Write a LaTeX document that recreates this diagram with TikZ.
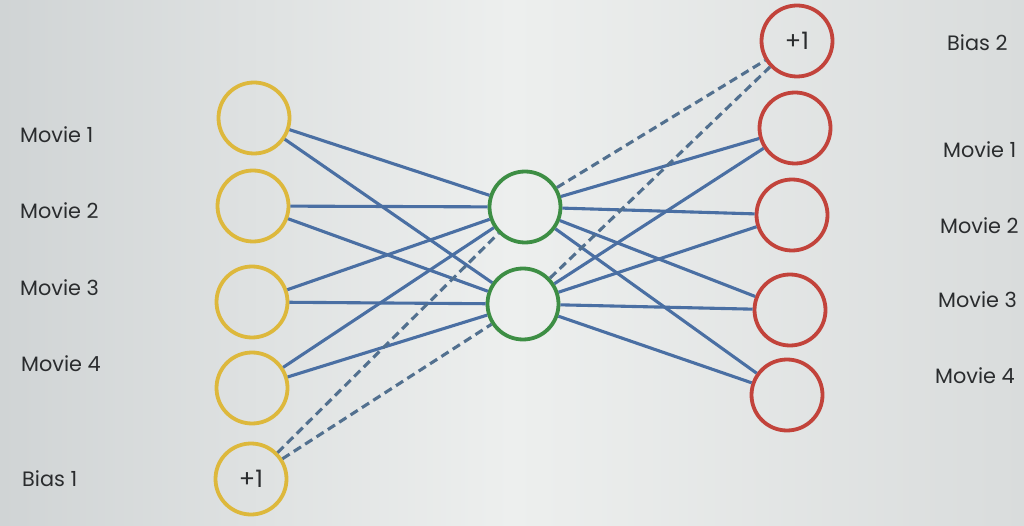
\documentclass[tikz,border=0pt]{standalone}
\usepackage{fontspec}
\setmainfont{Poppins}
\definecolor{yel}{HTML}{DDB83C}
\definecolor{grn}{HTML}{3D8E44}
\definecolor{rd}{HTML}{C2433B}
\definecolor{lnblue}{HTML}{4A6FA3}
\definecolor{dshblue}{HTML}{52708F}
\definecolor{txt}{HTML}{2A2C2E}
\definecolor{bgL}{HTML}{D0D4D5}
\definecolor{bgM}{HTML}{EDEFEE}
\definecolor{bgR}{HTML}{D9DCDC}
\begin{document}
\begin{tikzpicture}[x=1pt,y=-1pt,
  neuron/.style={circle, minimum size=71pt, inner sep=0pt, line width=3.8pt},
  inn/.style={neuron, draw=yel},
  hid/.style={neuron, draw=grn},
  outn/.style={neuron, draw=rd},
  wline/.style={draw=lnblue, line width=3.1pt},
  bline/.style={draw=dshblue, line width=3.1pt, dash pattern=on 8.5pt off 5pt},
  lbl/.style={font=\fontsize{20.8}{24}\selectfont, text=txt, inner sep=0pt, anchor=base west},
  biastxt/.style={font=\fontsize{24}{26}\selectfont, text=txt}
]
\useasboundingbox (0,0) rectangle (1024,526);
\shade[left color=bgL, right color=bgR, middle color=bgM] (0,0) rectangle (1024,526);

% input layer
\node[inn] (i1) at (254,118) {};
\node[inn] (i2) at (253,206) {};
\node[inn] (i3) at (252,302) {};
\node[inn] (i4) at (252,388) {};
\node[inn,biastxt] (b1) at (251,479) {+1};
% hidden layer
\node[hid] (h1) at (525,207) {};
\node[hid] (h2) at (523,304) {};
% output layer
\node[outn,biastxt] (b2) at (797,41) {+1};
\node[outn] (o1) at (795,128) {};
\node[outn] (o2) at (792,215) {};
\node[outn] (o3) at (790,310) {};
\node[outn] (o4) at (787,395) {};

% connections
\foreach \s in {i1,i2,i3,i4}{
  \foreach \t in {h1,h2}{
    \draw[wline] (\s) -- (\t);
  }
}
\foreach \s in {h1,h2}{
  \foreach \t in {o1,o2,o3,o4}{
    \draw[wline] (\s) -- (\t);
  }
}
\draw[bline] (b1) -- (h1);
\draw[bline] (b1) -- (h2);
\draw[bline] (h1) -- (b2);
\draw[bline] (h2) -- (b2);

% labels left
\node[lbl] (l1) at (20,143) {Movie 1};
\node[lbl] (l2) at (20,219) {Movie 2};
\node[lbl] (l3) at (20,295) {Movie 3};
\node[lbl] (l4) at (21,371) {Movie 4};
\node[lbl] (lb) at (22,486) {Bias 1};
% labels right
\node[lbl] (rb) at (947,51) {Bias 2};
\node[lbl] (r1) at (943,158) {Movie 1};
\node[lbl] (r2) at (940,234) {Movie 2};
\node[lbl] (r3) at (938,308) {Movie 3};
\node[lbl] (r4) at (935,383) {Movie 4};
\end{tikzpicture}
\end{document}
